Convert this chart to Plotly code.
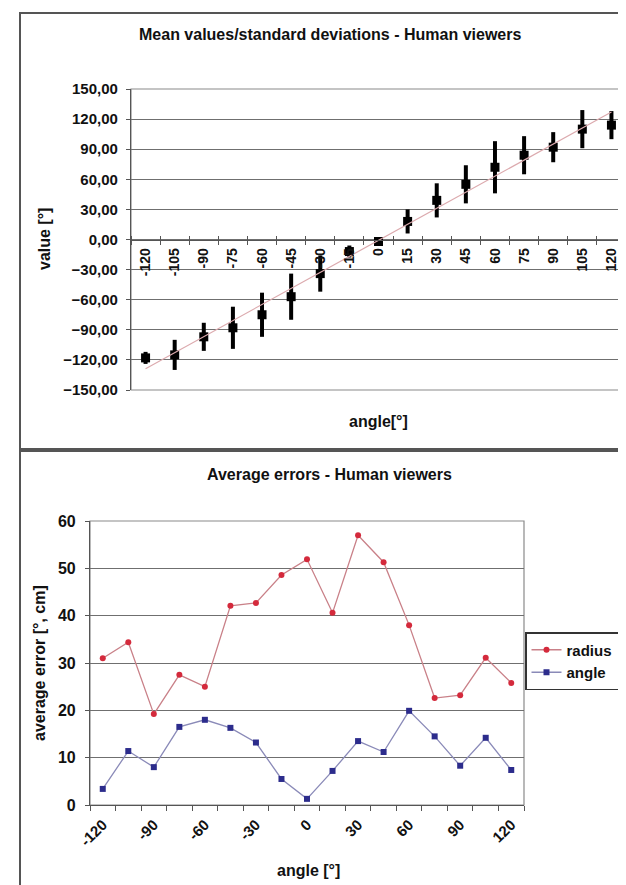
import numpy as np
import plotly.graph_objects as go

# ---------------- data ----------------
angles = [-120, -105, -90, -75, -60, -45, -30, -15, 0, 15, 30, 45, 60, 75, 90, 105, 120]
top_tick_labels = ["-120", "-105", "-90", "-75", "-60", "-45", "-30", "-15", "0",
                   "15", "30", "45", "60", "75", "90", "105", "120"]
mean_values = [-118, -115, -97, -88, -75, -57, -34, -12, -2, 18, 39, 55, 72, 84, 92, 110, 114]
std_devs = [6, 15, 14, 21, 22, 23, 18, 6, 3, 12, 17, 19, 26, 19, 15, 19, 14]

bottom_tick_vals = [-120, -90, -60, -30, 0, 30, 60, 90, 120]
bottom_tick_labels = ["-120", "-90", "-60", "-30", "0", "30", "60", "90", "120"]
radius_err = [31, 34.4, 19.2, 27.5, 25, 42.1, 42.7, 48.6, 51.9, 40.6, 57, 51.3, 38, 22.6, 23.2, 31.1, 25.8]
angle_err = [3.4, 11.4, 8, 16.5, 18, 16.3, 13.2, 5.5, 1.3, 7.2, 13.5, 11.2, 19.9, 14.5, 8.3, 14.2, 7.4]

# ---------------- layout helpers ----------------
W, H = 626, 885
def px(x):
    return x / W
def py(y):
    return 1 - y / H

FONT = "Liberation Sans, Arial, sans-serif"
GRID = "#6f6f6f"
AXC = "#555555"

top_ydom = [py(382), py(81)]
top_mid = (top_ydom[0] + top_ydom[1]) / 2

# linear trendline of the means (as in the Excel chart)
coef = np.polyfit(angles, mean_values, 1)
trend = np.polyval(coef, angles)

fig = go.Figure()

fig.add_trace(go.Scatter(
    x=angles, y=trend, mode="lines", xaxis="x3", yaxis="y",
    line=dict(color="#dcaaae", width=1.2), showlegend=False, hoverinfo="skip"))

fig.add_trace(go.Scatter(
    x=angles, y=mean_values, mode="markers", xaxis="x", yaxis="y",
    marker=dict(symbol="square", size=9, color="black"),
    error_y=dict(type="data", array=std_devs, thickness=4, width=0, color="black"),
    showlegend=False, hoverinfo="skip"))

fig.add_trace(go.Scatter(
    x=angles, y=radius_err, mode="lines+markers", name="radius", xaxis="x2", yaxis="y2",
    line=dict(color="#c98088", width=1.3),
    marker=dict(symbol="circle", size=6, color="#d42a3c"), hoverinfo="skip"))

fig.add_trace(go.Scatter(
    x=angles, y=angle_err, mode="lines+markers", name="angle", xaxis="x2", yaxis="y2",
    line=dict(color="#8a8ab8", width=1.3),
    marker=dict(symbol="square", size=6, color="#2c2c8c"), hoverinfo="skip"))

minor_down = dict(tickmode="linear", tick0=-127.5, dtick=15, ticks="outside",
                  ticklen=4, tickcolor=AXC, tickwidth=1, showgrid=False)
minor_up = dict(tickmode="linear", tick0=-127.5, dtick=15, ticks="inside",
                ticklen=4, tickcolor=AXC, tickwidth=1, showgrid=False)

fig.update_layout(
    width=W, height=H,
    margin=dict(l=0, r=0, t=0, b=0),
    paper_bgcolor="white", plot_bgcolor="white",
    separators=",.",
    font=dict(family=FONT, size=15, color="#111111", weight="bold"),
    showlegend=True,
    legend=dict(x=px(517), y=py(624), xanchor="left", yanchor="top",
                bgcolor="white", bordercolor="#333333", borderwidth=1.5,
                font=dict(family=FONT, size=15, color="#111111", weight="bold"),
                itemwidth=30, tracegroupgap=0),
    xaxis=dict(domain=[px(123), px(618)], range=[-127.5, 127.5], anchor="free",
               position=top_mid, showgrid=False, zeroline=False,
               showline=True, linecolor=AXC, linewidth=1.2,
               tickmode="array", tickvals=angles, ticktext=top_tick_labels,
               tickangle=-90, ticks="", minor=minor_down,
               tickfont=dict(size=14), ticklabelstandoff=2, automargin=False),
    xaxis3=dict(domain=[px(123), px(618)], range=[-127.5, 127.5], anchor="free",
                position=top_mid, overlaying="x", showgrid=False, zeroline=False,
                showline=False, showticklabels=False, ticks="", minor=minor_up,
                automargin=False),
    yaxis=dict(domain=top_ydom, range=[-150, 150], tick0=0, dtick=30,
               tickformat=".2f", showgrid=True, gridcolor=GRID, gridwidth=1.2,
               zeroline=False, showline=True, linecolor=AXC, linewidth=1.2,
               ticks="outside", ticklen=4, tickcolor=AXC, anchor="x",
               tickfont=dict(size=15), ticklabelstandoff=5, automargin=False),
    xaxis2=dict(domain=[px(82), px(516)], range=[-127.5, 127.5], anchor="y2",
                showgrid=False, zeroline=False, showline=True, linecolor=AXC,
                linewidth=1.2, tickmode="array", tickvals=bottom_tick_vals,
                ticktext=bottom_tick_labels, tickangle=-45, ticks="",
                minor=dict(tickmode="linear", tick0=-127.5, dtick=15, ticks="outside",
                           ticklen=5, tickcolor=AXC, tickwidth=1, showgrid=False),
                tickfont=dict(size=15), ticklabelstandoff=4, automargin=False),
    yaxis2=dict(domain=[py(797), py(513)], range=[0, 60], tick0=0, dtick=10,
                showgrid=True, gridcolor=GRID, gridwidth=1.2, zeroline=False,
                showline=True, linecolor=AXC, linewidth=1.2, ticks="outside",
                ticklen=4, tickcolor=AXC, anchor="x2",
                tickfont=dict(size=16), ticklabelstandoff=6, automargin=False),
)

# chart frames and plot-area borders
fig.add_shape(type="rect", xref="paper", yref="paper", x0=px(12), x1=px(621),
              y0=py(441), y1=py(5), line=dict(color="#555555", width=2), layer="below")
fig.add_shape(type="rect", xref="paper", yref="paper", x0=px(12), x1=px(621),
              y0=py(884), y1=py(443), line=dict(color="#555555", width=2), layer="below")
fig.add_shape(type="rect", xref="x domain", yref="y domain", x0=0, x1=1, y0=0, y1=1,
              line=dict(color="#8a8a8a", width=1.2), layer="below")
fig.add_shape(type="rect", xref="x2 domain", yref="y2 domain", x0=0, x1=1, y0=0, y1=1,
              line=dict(color="#8a8a8a", width=1.2), layer="below")

def ann(text, x, y, size=16, angle=0):
    fig.add_annotation(text=text, x=px(x), y=py(y), xref="paper", yref="paper",
                       showarrow=False, textangle=angle, xanchor="center", yanchor="middle",
                       font=dict(family=FONT, size=size, color="#111111", weight="bold"))

ann("Mean values/standard deviations - Human viewers", 322, 27)
ann("value [°]", 36, 231, angle=-90)
ann("angle[°]", 370, 413)
ann("Average errors - Human viewers", 321, 466)
ann("average error [°, cm]", 31, 655, angle=-90)
ann("angle [°]", 300, 862)

fig.write_html("out.html")
